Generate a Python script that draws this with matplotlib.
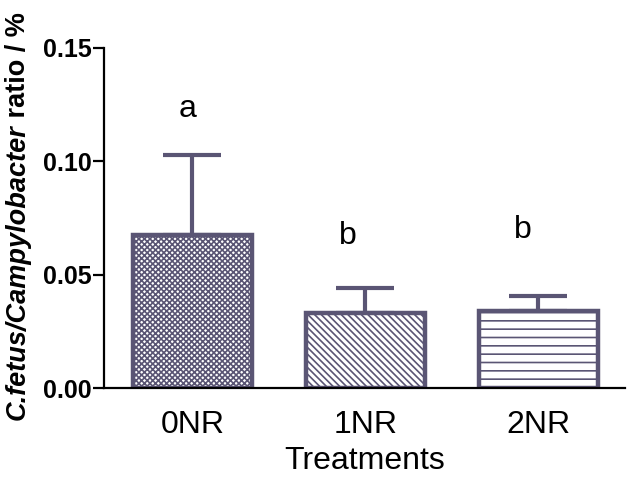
import matplotlib
matplotlib.use("Agg")
import matplotlib.pyplot as plt
import numpy as np

# ---- data ----
categories = ["0NR", "1NR", "2NR"]
means = [0.0677, 0.0332, 0.0341]
errors = [0.0350, 0.0110, 0.0066]
letters = ["a", "b", "b"]
letter_y = [0.123, 0.0670, 0.0695]
letter_dx = [-0.03, -0.10, -0.09]
hatches = ["xxxxxx", "\\\\\\\\\\", "--"]
yticks = [0.00, 0.05, 0.10, 0.15]
ytick_labels = ["0.00", "0.05", "0.10", "0.15"]

plt.rcParams["font.family"] = ["Liberation Sans", "DejaVu Sans"]
plt.rcParams["hatch.linewidth"] = 1.2

edge = "#5a5574"
plt.rcParams["hatch.color"] = edge

fig = plt.figure(figsize=(6.33, 4.83), dpi=100)
ax = fig.add_axes([104 / 633, 1 - 388 / 483, (625 - 104) / 633, (388 - 48) / 483])

x = np.arange(len(categories))
for i in range(len(categories)):
    ax.bar(x[i], means[i], width=0.69, color="white", edgecolor=edge,
           linewidth=3.2, hatch=hatches[i], zorder=2)
    ax.errorbar(x[i], means[i], yerr=[[0], [errors[i]]], fmt="none",
                ecolor=edge, elinewidth=3.0, capsize=21, capthick=3.0,
                zorder=1)

for i, t in enumerate(letters):
    ax.text(x[i] + letter_dx[i], letter_y[i], t, ha="center", va="center",
            fontsize=23)

ax.set_xlim(-0.51, 2.5)
ax.set_ylim(0, 0.15)
ax.set_yticks(yticks)
ax.set_yticklabels(ytick_labels, fontsize=18, fontweight="bold")
ax.set_xticks(x)
ax.set_xticklabels(categories, fontsize=23)
ax.tick_params(axis="x", length=0, pad=16)
ax.tick_params(axis="y", length=8, width=1.6, pad=1)
for s in ["top", "right"]:
    ax.spines[s].set_visible(False)
for s in ["left", "bottom"]:
    ax.spines[s].set_linewidth(1.6)
ax.set_xlabel("Treatments", fontsize=23, labelpad=4)

# y label with italic part
fig.canvas.draw()
renderer = fig.canvas.get_renderer()
lx = 18 / 633
t1 = fig.text(lx, 0, "C.fetus/Campylobacter", rotation=90, fontsize=19.5,
              fontweight="bold", fontstyle="italic", ha="center", va="bottom")
t2 = fig.text(lx, 0, " ratio / %", rotation=90, fontsize=19.5,
              fontweight="bold", ha="center", va="bottom")
b1 = t1.get_window_extent(renderer)
b2 = t2.get_window_extent(renderer)
total = b1.height + b2.height
center_px = 483 - 216
start = center_px - total / 2
t1.set_position((lx, start / 483))
t2.set_position((lx, (start + b1.height) / 483))

fig.savefig("out.png", dpi=100)
